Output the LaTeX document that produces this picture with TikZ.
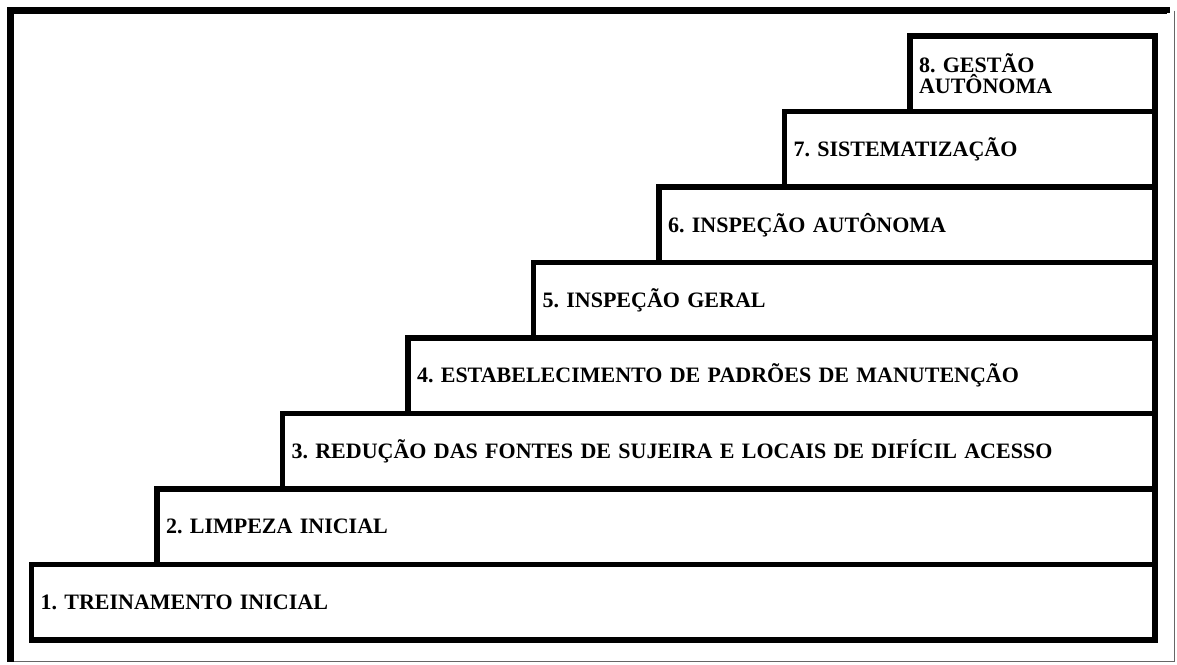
\documentclass[tikz,border=0pt]{standalone}
\usepackage{fontspec}
\setmainfont{Liberation Serif}
\frenchspacing
\begin{document}
\begin{tikzpicture}[x=1pt,y=-1pt,
  stepbox/.style={draw=black, line width=5.5pt, rectangle, anchor=north west,
    outer sep=0pt, inner xsep=9pt, inner ysep=0pt, align=left,
    font=\fontsize{22}{21.5}\selectfont\bfseries},
  frameedge/.style={line width=6.5pt, black},
  framethin/.style={line width=1pt, black!60}]
\useasboundingbox (0,0) rectangle (1177,664);
% outer frame
\coordinate (fTL) at (10.5,10.5);
\coordinate (fBL) at (10.5,661.5);
\coordinate (fTR) at (1174,10.5);
\coordinate (fBR) at (1174,661.5);
\draw[framethin] (fTR) -- (fBR) -- (fBL);
\draw[frameedge] (fBL) -- (fTL) -- (1167,10.5) -- (1167,13);
% the staircase of steps
\foreach \k/\txt in {1/{1. TREINAMENTO INICIAL},
                     2/{2. LIMPEZA INICIAL},
                     3/{3. REDUÇÃO DAS FONTES DE SUJEIRA E LOCAIS DE DIFÍCIL ACESSO},
                     4/{4. ESTABELECIMENTO DE PADRÕES DE MANUTENÇÃO},
                     5/{5. INSPEÇÃO GERAL},
                     6/{6. INSPEÇÃO AUTÔNOMA},
                     7/{7. SISTEMATIZAÇÃO},
                     8/{8. GESTÃO\\AUTÔNOMA}} {
  \pgfmathsetmacro\lx{31.5+125.5*(\k-1)}
  \pgfmathsetmacro\ty{640-75.5*\k}
  \pgfmathsetmacro\w{1155-\lx}
  \pgfmathsetmacro\tw{\w-18}
  \node[stepbox, minimum width=\w pt, minimum height=75.5pt, text width=\tw pt]
    (s\k) at (\lx,\ty) {\txt};
}
\end{tikzpicture}
\end{document}
